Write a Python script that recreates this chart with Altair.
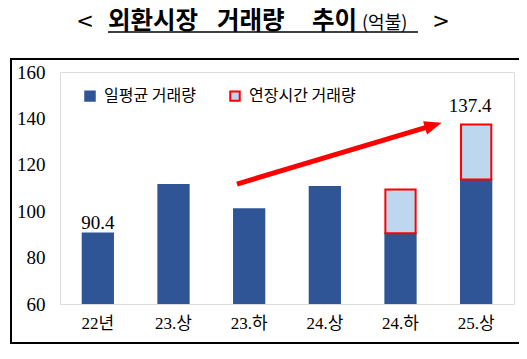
import altair as alt
import pandas as pd

categories = ["22년", "23.상", "23.하", "24.상", "24.하", "25.상"]
daily_avg = [90.4, 111.3, 100.8, 110.4, 90.5, 113.7]
extended = [0.0, 0.0, 0.0, 0.0, 18.9, 23.7]
series_names = ["일평균 거래량", "연장시간 거래량"]
label_first = ("22년", 90.4)
label_last = ("25.상", 137.4)
arrow_from = ("23.하", 111.7)
arrow_to = ("25.상", 136.9)
arrow_tip = ("25.상", 138.1)
title_words = ["외환시장", "거래량", "추이"]
title_unit = "(억불)"
y_ticks = [60, 80, 100, 120, 140, 160]

DARK = "#2F5597"
LIGHT = "#BDD7EE"
RED = "#FF0000"
SERIF = "Liberation Serif, Noto Sans CJK KR"
KR = "Noto Sans CJK KR"

rows = []
for c, d, e in zip(categories, daily_avg, extended):
    rows.append({"cat": c, "series": series_names[0], "start": 0, "end": d})
    if e > 0:
        rows.append({"cat": c, "series": series_names[1], "start": d, "end": round(d + e, 1)})
bars_df = pd.DataFrame(rows)

xscale = alt.Scale(domain=categories, paddingInner=0.6, paddingOuter=0.3)
yscale = alt.Scale(domain=[60, 160], zero=False, nice=False)

bars = alt.Chart(bars_df).mark_bar(clip=True, strokeWidth=2).encode(
    x=alt.X("cat:N", scale=xscale, sort=categories,
            axis=alt.Axis(title=None, labelAngle=0, ticks=False, domain=False,
                          labelFont=SERIF, labelFontSize=17, labelColor="#000",
                          labelPadding=11)),
    y=alt.Y("end:Q", scale=yscale,
            axis=alt.Axis(title=None, values=y_ticks, grid=False, ticks=False, domain=False,
                          labelFont=SERIF, labelFontSize=19, labelColor="#000",
                          labelPadding=15)),
    y2="start:Q",
    fill=alt.Fill("series:N", scale=alt.Scale(domain=series_names, range=[DARK, LIGHT]),
                  legend=alt.Legend(title=None, orient="none", legendX=22, legendY=16,
                                    direction="horizontal", symbolType="square",
                                    symbolSize=90, symbolStrokeWidth=2,
                                    labelFont=KR, labelFontSize=16, labelColor="#000",
                                    columnPadding=30, labelOffset=6)),
    stroke=alt.Stroke("series:N", scale=alt.Scale(domain=series_names, range=[DARK, RED]),
                      legend=None),
)

lab1 = alt.Chart(pd.DataFrame([{"cat": label_first[0], "v": label_first[1]}])).mark_text(
    font=SERIF, fontSize=19, baseline="alphabetic", dy=-4, color="#000"
).encode(x=alt.X("cat:N", scale=xscale, sort=categories), y=alt.Y("v:Q", scale=yscale),
         text=alt.Text("v:Q", format=".1f"))
lab2 = alt.Chart(pd.DataFrame([{"cat": label_last[0], "v": label_last[1]}])).mark_text(
    font=SERIF, fontSize=19, baseline="alphabetic", dy=-12, dx=-6, color="#000"
).encode(x=alt.X("cat:N", scale=xscale, sort=categories), y=alt.Y("v:Q", scale=yscale),
         text=alt.Text("v:Q", format=".1f"))

arrow_df = pd.DataFrame([{"x": arrow_from[0], "y": arrow_from[1], "x2": arrow_to[0], "y2": arrow_to[1]}])
arrow_line = alt.Chart(arrow_df).mark_rule(
    color=RED, strokeWidth=5, xOffset=-12.2, x2Offset=-44.1, strokeCap="butt"
).encode(x=alt.X("x:N", scale=xscale, sort=categories), x2="x2:N",
         y=alt.Y("y:Q", scale=yscale), y2="y2:Q")
tip_df = pd.DataFrame([{"x": arrow_tip[0], "y": arrow_tip[1]}])
arrow_head = alt.Chart(tip_df).mark_point(
    shape="M0,0 L-2,-0.8 L-2,0.8 Z", size=300, filled=True, opacity=1,
    color=RED, angle=343.3, xOffset=-34.5
).encode(x=alt.X("x:N", scale=xscale, sort=categories), y=alt.Y("y:Q", scale=yscale))

one = pd.DataFrame([{"a": 1}])
frame = alt.Chart(one).mark_rect(fill=None, stroke="#000", strokeWidth=2).encode(
    x=alt.value(-49), x2=alt.value(461), y=alt.value(-13), y2=alt.value(271))

title_layers = []
title_layers.append(alt.Chart(one).mark_text(text="<", font="DejaVu Sans", fontSize=21, color="#000",
                                             baseline="middle").encode(x=alt.value(25), y=alt.value(-50)))
title_layers.append(alt.Chart(one).mark_text(text=">", font="DejaVu Sans", fontSize=21, color="#000",
                                             baseline="middle").encode(x=alt.value(381), y=alt.value(-50)))
word_x = [48, 157, 252]
for w, wx in zip(title_words, word_x):
    title_layers.append(alt.Chart(one).mark_text(text=w, font=KR, fontSize=24.5, fontWeight="bold",
                                                 color="#000", align="left", baseline="middle")
                        .encode(x=alt.value(wx), y=alt.value(-50)))
title_layers.append(alt.Chart(one).mark_text(text=title_unit, font=KR, fontSize=18, color="#000",
                                             align="left", baseline="middle")
                    .encode(x=alt.value(302), y=alt.value(-48)))
underline = alt.Chart(one).mark_rule(color="#000", strokeWidth=1.5).encode(
    x=alt.value(48), x2=alt.value(358), y=alt.value(-40))

chart = alt.layer(frame, bars, lab1, lab2, arrow_line, arrow_head, underline, *title_layers).properties(
    width=454, height=232,
    autosize=alt.AutoSizeParams(type="none"),
    padding={"left": 52, "top": 64, "right": 5, "bottom": 40},
).configure_view(stroke="#000", strokeWidth=1.5).configure(background="white")

chart.save("out.html", embed_options={"renderer": "svg", "actions": False})
